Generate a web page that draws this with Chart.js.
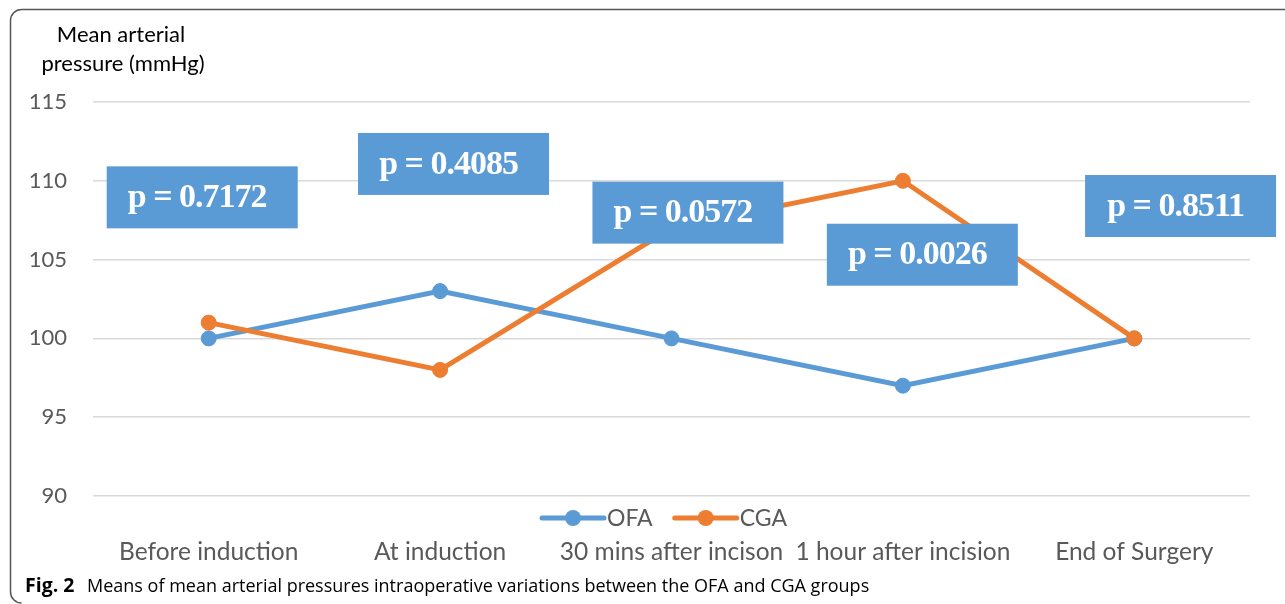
<!DOCTYPE html>
<html lang="en">
<head>
  <meta charset="UTF-8">
  <title>Mean arterial pressure OFA vs CGA</title>
  <style>
    body { margin: 0; background: #fff; }
    canvas { display: block; }
  </style>
  <script src="https://cdn.jsdelivr.net/npm/chart.js"></script>
</head>
<body>
  <canvas id="mapChart" width="1285" height="604"></canvas>
  <script>
    // Data
    const categories = ['Before induction', 'At induction', '30 mins after incison', '1 hour after incision', 'End of Surgery'];
    const ofaValues = [100, 103, 100, 97, 100];
    const cgaValues = [101, 98, 107, 110, 100];
    const yTicks = [90, 95, 100, 105, 110, 115];

    // p-value labels, anchored in data units (category index, mmHg)
    const pTexts = ['p = 0.7172', 'p = 0.4085', 'p = 0.0572', 'p = 0.0026', 'p = 0.8511'];
    const pAtIndex = [-0.028, 1.058, 2.071, 3.084, 4.2];
    const pAtValue = [108.95, 111.07, 107.98, 105.31, 108.4];

    const BLUE = '#5b9bd5';
    const ORANGE = '#ed7d31';
    const GREY_TEXT = '#595959';
    const LABEL_FONT = 'Lato, "Open Sans", sans-serif';

    // frame, y-axis title and caption
    const decorPlugin = {
      id: 'decor',
      beforeDraw(chart) {
        const ctx = chart.ctx;
        ctx.save();
        ctx.fillStyle = '#fff';
        ctx.fillRect(0, 0, chart.width, chart.height);
        ctx.strokeStyle = '#555';
        ctx.lineWidth = 1.5;
        ctx.beginPath();
        ctx.moveTo(chart.width, 9.5);
        ctx.lineTo(21, 9.5);
        ctx.arcTo(10.5, 9.5, 10.5, 20, 11);
        ctx.lineTo(10.5, 592);
        ctx.arcTo(10.5, 603, 21, 603, 11);
        ctx.stroke();

        ctx.fillStyle = '#000';
        ctx.font = '22px ' + LABEL_FONT;
        ctx.textAlign = 'center';
        ctx.textBaseline = 'alphabetic';
        ctx.fillText('Mean arterial', 121, 42);
        ctx.fillText('pressure (mmHg)', 123, 71);

        ctx.textAlign = 'left';
        ctx.font = 'bold 19.5px "Open Sans", sans-serif';
        ctx.fillText('Fig. 2', 25, 592);
        ctx.font = '18px "Open Sans", sans-serif';
        ctx.fillText('Means of mean arterial pressures intraoperative variations between the OFA and CGA groups', 87, 592);
        ctx.restore();
      }
    };

    // legend drawn between plot and category labels
    const legendPlugin = {
      id: 'midLegend',
      afterDraw(chart) {
        const ctx = chart.ctx;
        const y = chart.chartArea.bottom + 22;
        ctx.save();
        ctx.font = '23px ' + LABEL_FONT;
        ctx.textBaseline = 'middle';
        const lineLen = 62, gap = 3, itemGap = 22;
        const items = chart.data.datasets.map(ds => ({ ds, tw: ctx.measureText(ds.label).width }));
        const total = items.reduce((s, it) => s + lineLen + gap + it.tw, 0) + itemGap * (items.length - 1);
        let x = (chart.chartArea.left + chart.chartArea.right) / 2 - 7 - total / 2;
        items.forEach(it => {
          ctx.strokeStyle = it.ds.borderColor;
          ctx.lineWidth = 5;
          ctx.lineCap = 'round';
          ctx.beginPath();
          ctx.moveTo(x, y);
          ctx.lineTo(x + lineLen, y);
          ctx.stroke();
          ctx.fillStyle = it.ds.borderColor;
          ctx.beginPath();
          ctx.arc(x + lineLen / 2, y, 8, 0, Math.PI * 2);
          ctx.fill();
          ctx.fillStyle = GREY_TEXT;
          ctx.textAlign = 'left';
          ctx.fillText(it.ds.label, x + lineLen + gap, y + 1);
          x += lineLen + gap + it.tw + itemGap;
        });
        ctx.restore();
      }
    };

    // blue p-value boxes over the lines
    const pBoxPlugin = {
      id: 'pBoxes',
      afterDatasetsDraw(chart) {
        const ctx = chart.ctx;
        const xs = chart.scales.x, ys = chart.scales.y;
        const bw = 191, bh = 62;
        ctx.save();
        pTexts.forEach((t, i) => {
          const cx = xs.getPixelForValue(pAtIndex[i]);
          const cy = ys.getPixelForValue(pAtValue[i]);
          ctx.fillStyle = BLUE;
          ctx.fillRect(cx - bw / 2, cy - bh / 2, bw, bh);
          ctx.fillStyle = '#fff';
          ctx.font = 'bold 34px "Liberation Serif", "DejaVu Serif", serif';
          ctx.letterSpacing = '-1px';
          ctx.textAlign = 'center';
          ctx.textBaseline = 'middle';
          ctx.fillText(t, cx - 5, cy + 1);
        });
        ctx.restore();
      }
    };

    new Chart(document.getElementById('mapChart'), {
      type: 'line',
      data: {
        labels: categories,
        datasets: [
          { label: 'OFA', data: ofaValues, borderColor: BLUE, backgroundColor: BLUE, borderWidth: 5,
            pointRadius: 7.5, pointBorderWidth: 1, pointBackgroundColor: BLUE, pointBorderColor: BLUE, order: 1 },
          { label: 'CGA', data: cgaValues, borderColor: ORANGE, backgroundColor: ORANGE, borderWidth: 5,
            pointRadius: 7.5, pointBorderWidth: 1, pointBackgroundColor: ORANGE, pointBorderColor: ORANGE, order: 0 }
        ]
      },
      options: {
        responsive: false,
        animation: false,
        layout: { padding: { left: 0, top: 102, right: 35, bottom: 28 } },
        plugins: {
          legend: { display: false },
          tooltip: { enabled: false }
        },
        scales: {
          x: {
            offset: true,
            grid: { display: false },
            border: { display: false },
            ticks: { color: GREY_TEXT, font: { family: LABEL_FONT, size: 24.5 }, padding: 33, maxRotation: 0, autoSkip: false },
            afterFit(scale) { scale.height = 80; }
          },
          y: {
            min: 90, max: 115,
            afterBuildTicks(scale) { scale.ticks = yTicks.map(v => ({ value: v })); },
            grid: { color: '#d9d9d9', lineWidth: 1.5, drawTicks: false },
            border: { display: false },
            ticks: { color: GREY_TEXT, font: { family: LABEL_FONT, size: 22 }, padding: 26 },
            afterFit(scale) { scale.width = 93; }
          }
        }
      },
      plugins: [decorPlugin, pBoxPlugin, legendPlugin]
    });
  </script>
</body>
</html>
